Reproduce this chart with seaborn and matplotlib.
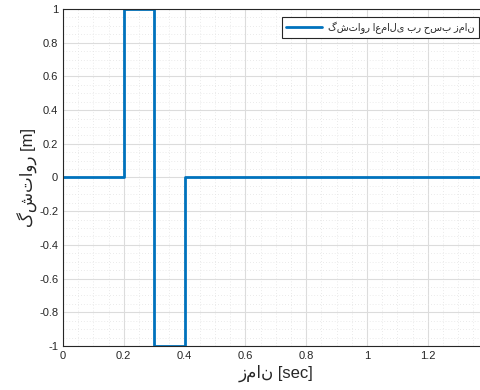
import matplotlib
matplotlib.use("Agg")
import matplotlib.pyplot as plt
import seaborn as sns
import pandas as pd
from matplotlib.ticker import MultipleLocator

time = [0.0, 0.2, 0.3, 0.4, 1.4]
torque = [0, 1, -1, 0, 0]
xticks = [0, 0.2, 0.4, 0.6, 0.8, 1, 1.2]
yticks = [-1, -0.8, -0.6, -0.4, -0.2, 0, 0.2, 0.4, 0.6, 0.8, 1]
legend_label = "گشتاور اعمالی بر حسب زمان"
xlabel = "زمان [sec]"
ylabel = "گشتاور [m]"

sns.set_style("white")
plt.rcParams['font.family'] = ['Liberation Sans', 'DejaVu Sans']

W, H = 481, 390
fig = plt.figure(figsize=(W/100, H/100), dpi=100)
left_px, right_px, top_px, bottom_px = 63, 490, 9, 346
ax = fig.add_axes([left_px/W, 1-bottom_px/H, (right_px-left_px)/W, (bottom_px-top_px)/H])

df = pd.DataFrame({"t": time, "y": torque})
sns.lineplot(data=df, x="t", y="y", drawstyle="steps-post", color="#0072BD",
             linewidth=2, ax=ax, label=legend_label)

px_per_unit = 304.0
ax.set_xlim(0, (right_px-left_px)/px_per_unit)
ax.set_ylim(-1, 1)
ax.set_xticks(xticks)
ax.set_xticklabels([f"{v:g}" for v in xticks])
ax.set_yticks(yticks)
ax.set_yticklabels([f"{v:g}" for v in yticks])
ax.xaxis.set_minor_locator(MultipleLocator(0.05))
ax.yaxis.set_minor_locator(MultipleLocator(0.05))
ax.grid(which="major", color="#dcdcdc", linewidth=0.8, linestyle="-")
ax.grid(which="minor", color="#e3e3e3", linewidth=0.6, linestyle=(0, (1, 2.5)))
ax.set_axisbelow(True)
ax.tick_params(axis="both", which="major", direction="in", length=4, labelsize=8,
               colors="#262626", width=0.8)
ax.tick_params(axis="both", which="minor", length=0)
for s in ax.spines.values():
    s.set_color("#262626")
    s.set_linewidth(0.8)
ax.set_xlabel(xlabel, fontsize=12, color="#262626", labelpad=3)
ax.set_ylabel(ylabel, fontsize=12, color="#262626", labelpad=1)
leg = ax.legend(loc="upper right", fontsize=7, frameon=True, fancybox=False,
                edgecolor="#262626", framealpha=1, borderpad=0.45, handlelength=3.7,
                borderaxespad=0, handletextpad=0.6,
                bbox_to_anchor=(479/W, 1-17/H), bbox_transform=fig.transFigure)
leg.get_frame().set_linewidth(0.8)
fig.savefig("out.png", dpi=100)
